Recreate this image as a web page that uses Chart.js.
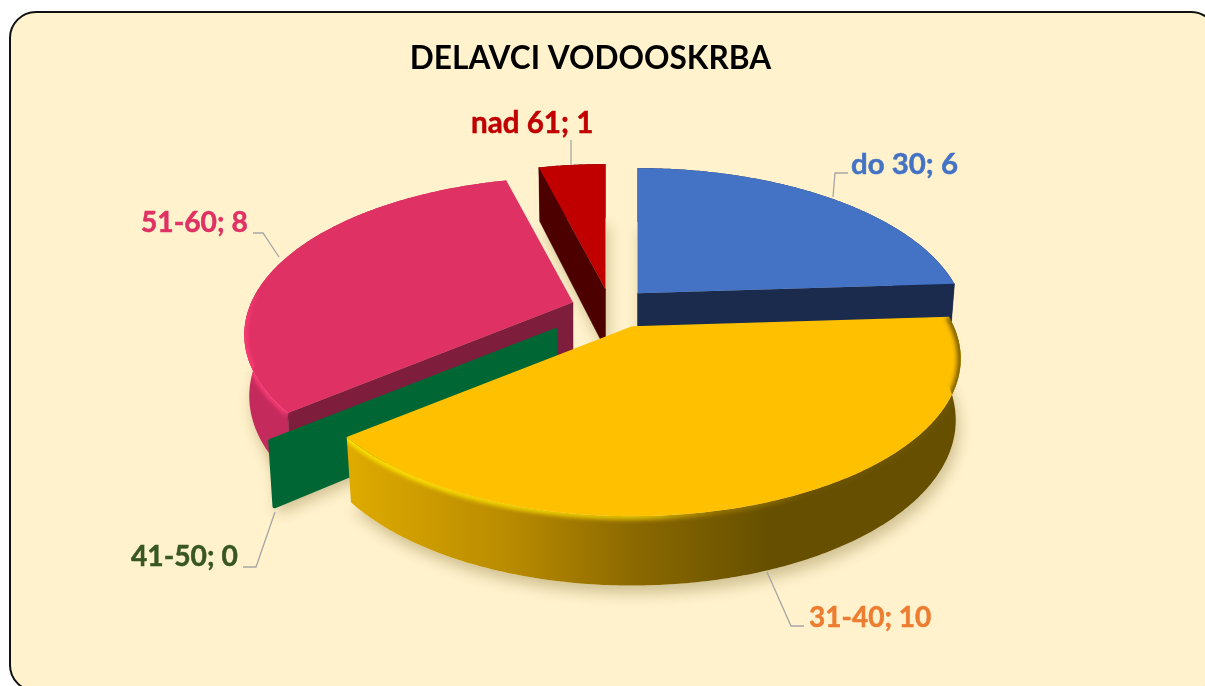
<!DOCTYPE html>
<html><head><meta charset="utf-8">
<style>html,body{margin:0;padding:0;background:#fff}canvas{display:block}</style>
<script src="https://cdn.jsdelivr.net/npm/chart.js@4"></script>
</head><body><canvas id="c" width="1205" height="686"></canvas>
<script>
const categories = ['do 30', '31-40', '41-50', '51-60', 'nad 61'];
const values = [6, 10, 0, 8, 1];
const colors = ['#4472c4', '#ffc000', '#006633', '#df3163', '#c00000'];
const labelColors = ['#4472c4', '#ed7d31', '#385723', '#df3163', '#c00000'];
const sideColors = ['#1b2b4e', '#ffc000', '#006633', '#c42b5c', '#4d0000'];
const wallColors = ['#1b2b4e', null, '#006633', '#7f1d3c', '#4d0000'];
const wallEdge = ['end', null, 'start', 'start', 'start'];
// explosion of each slice, px from the pie centre
const explodeX = [47, 41.5, -35, -17.5, 15];
const explodeY = [-12, 21, 25, -3, -16];
const drawOrder = [0, 4, 3, 2, 1];
const labelX = [851, 809, 131, 141, 471];
const labelY = [165, 618, 557, 223, 123];
const labelSize = [29.4, 28, 28.2, 28.2, 29.6];
const leaders = [
  [[833,197],[835,173],[848,173]],
  [[767,572],[791,626],[804,626]],
  [[275,512],[256,567],[243,567]],
  [[279,257],[263,233],[253,233]],
  [[571,165],[571,140]]
];
const XS = 1.548, YS = 0.726, PERSP = 0.206, DEPTH = 60;

function proj(arc, i, a, level) {
  return projXY(arc, i, Math.cos(a), Math.sin(a), level);
}
function projXY(arc, i, X, Y, level) {
  const R = arc.outerRadius, s = 1 / (1 - PERSP * Y);
  const ox = arc.x + explodeX[i], oy = arc.y + explodeY[i];
  const xk = level ? 0.985 : 1;
  return [ox + XS * R * X * s * xk, oy + YS * R * Y * s + (level ? DEPTH * (1 + 0.6 * (s - 1)) : 0)];
}
function arcPts(arc, i, level) {
  const pts = [], n = Math.max(1, Math.ceil((arc.endAngle - arc.startAngle) / 0.01));
  for (let k = 0; k <= n; k++) pts.push(proj(arc, i, arc.startAngle + (arc.endAngle - arc.startAngle) * k / n, level));
  return pts;
}
function poly(ctx, pts) {
  ctx.beginPath();
  pts.forEach((p, k) => k ? ctx.lineTo(p[0], p[1]) : ctx.moveTo(p[0], p[1]));
  ctx.closePath();
}
function apex(arc, i, level) { return projXY(arc, i, 0, 0, level); }
function sidePoly(arc, i) { return arcPts(arc, i, 0).concat(arcPts(arc, i, 1).reverse()); }
function wallPoly(arc, i) {
  const a = wallEdge[i] === 'end' ? arc.endAngle : arc.startAngle;
  return [apex(arc, i, 0), proj(arc, i, a, 0), proj(arc, i, a, 1), apex(arc, i, 1)];
}
function topPoly(arc, i) { return [apex(arc, i, 0)].concat(arcPts(arc, i, 0)); }

const pie3d = {
  id: 'pie3d',
  beforeDraw(chart) {
    const ctx = chart.ctx;
    ctx.save();
    ctx.beginPath();
    ctx.roundRect(10, 12, 1207, 679, 26);
    ctx.fillStyle = '#fff2cc';
    ctx.fill();
    ctx.lineWidth = 2;
    ctx.strokeStyle = '#111';
    ctx.stroke();
    ctx.restore();
  },
  beforeDatasetDraw(chart) {
    const ctx = chart.ctx, arcs = chart.getDatasetMeta(0).data;
    ctx.save();
    ctx.shadowColor = 'rgba(90,70,0,0.28)';
    ctx.shadowBlur = 14;
    ctx.shadowOffsetX = 3;
    ctx.shadowOffsetY = 8;
    drawOrder.forEach(i => {
      if (values[i] === 0) { poly(ctx, wallPoly(arcs[i], i)); }
      else { poly(ctx, arcPts(arcs[i], i, 1).concat([apex(arcs[i], i, 1)])); }
      ctx.fillStyle = '#fff2cc';
      ctx.fill();
    });
    ctx.restore();
    drawOrder.forEach(i => {
      const arc = arcs[i];
      ctx.save();
      ctx.lineJoin = 'round';
      if (values[i] > 0) {
        poly(ctx, sidePoly(arc, i));
        if (i === 1) {
          const xl = arc.x + explodeX[i] - 290;
          const g = ctx.createLinearGradient(xl, 0, xl + 425, 0);
          g.addColorStop(0, '#e0ac00');
          g.addColorStop(0.4, '#b88a00');
          g.addColorStop(0.7, '#8a6800');
          g.addColorStop(1, '#665000');
          ctx.fillStyle = g;
        } else ctx.fillStyle = sideColors[i];
        ctx.fill();
      }
      if (wallEdge[i]) {
        poly(ctx, wallPoly(arc, i));
        ctx.fillStyle = wallColors[i];
        ctx.strokeStyle = wallColors[i];
        ctx.lineWidth = values[i] === 0 ? 4 : 0.5;
        ctx.fill();
        ctx.stroke();
      }
      if (values[i] > 0) {
        poly(ctx, topPoly(arc, i));
        ctx.fillStyle = colors[i];
        ctx.fill();
        if (i === 1 || i === 3) {
          ctx.save();
          // keep the soft edge inside the slice outline
          const clipPts = topPoly(arc, i).concat(arcPts(arc, i, 1).reverse());
          poly(ctx, clipPts);
          ctx.clip();
          ctx.filter = 'blur(2.2px)';
          const pts = arcPts(arc, i, 0);
          ctx.beginPath();
          pts.forEach((p, k) => k ? ctx.lineTo(p[0], p[1]) : ctx.moveTo(p[0], p[1]));
          if (i === 1) {
            const xl = arc.x + explodeX[i] - 290;
            const g = ctx.createLinearGradient(xl, 0, xl + 615, 0);
            g.addColorStop(0, 'rgba(255,232,0,0.95)');
            g.addColorStop(0.5, 'rgba(255,225,0,0.7)');
            g.addColorStop(0.62, 'rgba(220,170,0,0.3)');
            g.addColorStop(0.75, 'rgba(110,85,0,0.8)');
            g.addColorStop(1, 'rgba(110,85,0,0.9)');
            ctx.strokeStyle = g;
            ctx.lineWidth = 7;
          } else {
            const yt = arc.y;
            const g = ctx.createLinearGradient(0, yt - 20, 0, yt + 50);
            g.addColorStop(0, 'rgba(255,60,120,0)');
            g.addColorStop(0.5, 'rgba(255,60,120,0.85)');
            g.addColorStop(1, 'rgba(255,60,120,0.95)');
            ctx.strokeStyle = g;
            ctx.lineWidth = 6;
          }
          ctx.stroke();
          ctx.restore();
        }
      }
      ctx.restore();
    });
    return false;
  },
  afterDraw(chart) {
    const ctx = chart.ctx;
    ctx.save();
    ctx.strokeStyle = '#a6a6a6';
    ctx.lineWidth = 1.3;
    leaders.forEach(l => {
      ctx.beginPath();
      l.forEach((p, k) => k ? ctx.lineTo(p[0], p[1]) : ctx.moveTo(p[0], p[1]));
      ctx.stroke();
    });
    ctx.textBaseline = 'middle';
    ctx.textAlign = 'left';
    ctx.lineWidth = 0.5;
    categories.forEach((c, i) => {
      ctx.font = 'bold ' + labelSize[i] + 'px Lato';
      ctx.fillStyle = labelColors[i];
      ctx.strokeStyle = labelColors[i];
      ctx.fillText(c + '; ' + values[i], labelX[i], labelY[i]);
      ctx.strokeText(c + '; ' + values[i], labelX[i], labelY[i]);
    });
    ctx.restore();
  }
};

new Chart(document.getElementById('c'), {
  type: 'pie',
  data: { labels: categories, datasets: [{ data: values, backgroundColor: colors, borderWidth: 0 }] },
  options: {
    responsive: false,
    animation: false,
    events: [],
    layout: { padding: { right: 24, bottom: 173 } },
    plugins: {
      legend: { display: false },
      tooltip: { enabled: false },
      title: {
        display: true,
        text: 'DELAVCI VODOOSKRBA',
        color: '#000',
        font: { family: 'Lato', weight: 'bold', size: 31.6 },
        padding: { top: 40, bottom: 19.5 }
      }
    }
  },
  plugins: [pie3d]
});
</script></body></html>
